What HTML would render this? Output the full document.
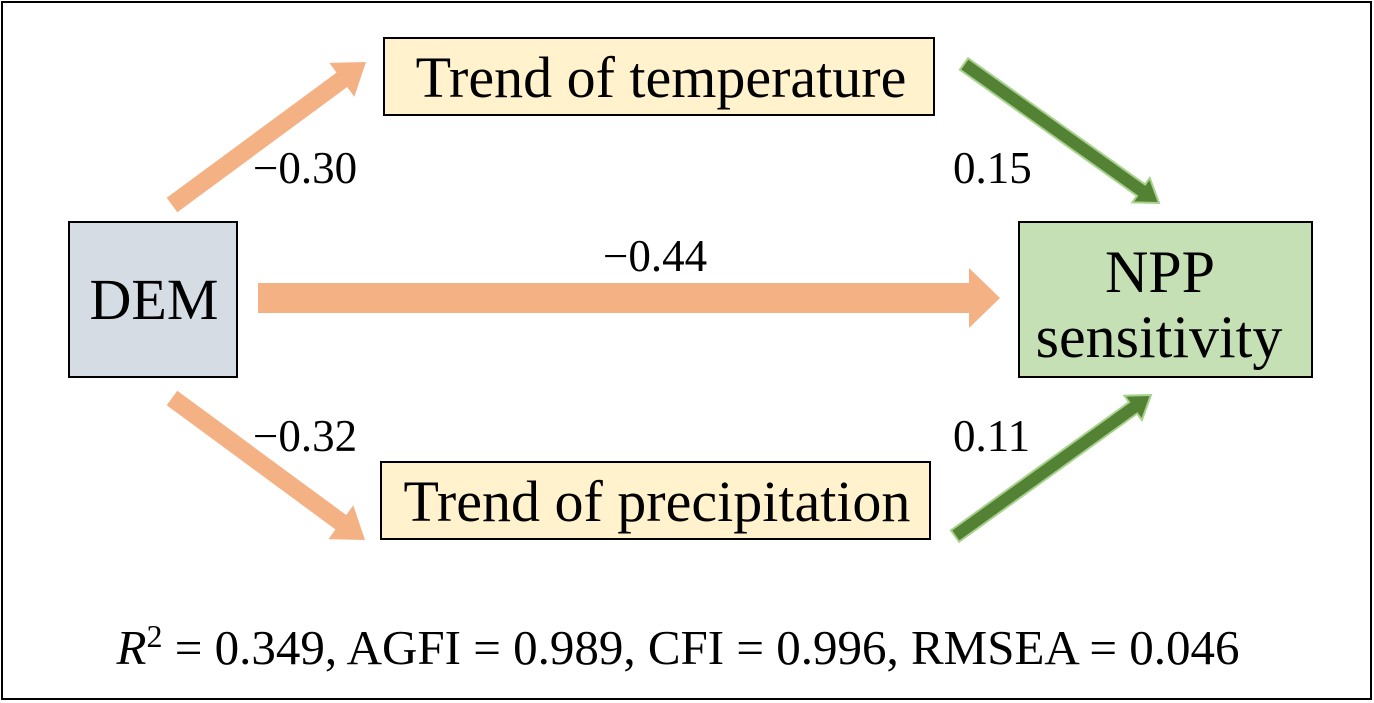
<!DOCTYPE html>
<html><head><meta charset="utf-8">
<style>
html,body{margin:0;padding:0;background:#fff;}
svg{display:block;}
text{font-family:"Liberation Serif",serif;fill:#000;}
</style></head>
<body>
<svg width="1374" height="703" viewBox="0 0 1374 703">
<rect x="2" y="2" width="1369" height="697" fill="#fff" stroke="#000" stroke-width="2"/>
<g id="arrows"></g>
<rect x="384" y="38" width="550" height="77" fill="#fff2cc" stroke="#000" stroke-width="2"/>
<text x="661" y="97" font-size="58" text-anchor="middle">Trend of temperature</text>
<rect x="381" y="462" width="549" height="77" fill="#fff2cc" stroke="#000" stroke-width="2"/>
<text x="657" y="521" font-size="58" text-anchor="middle">Trend of precipitation</text>
<rect x="69" y="222" width="168" height="155" fill="#d6dce4" stroke="#000" stroke-width="2"/>
<text x="154" y="319" font-size="58" text-anchor="middle">DEM</text>
<rect x="1019" y="222" width="293" height="155" fill="#c5e0b4" stroke="#000" stroke-width="2"/>
<text x="1160" y="292" font-size="60" text-anchor="middle">NPP</text>
<text x="1159" y="357" font-size="60" text-anchor="middle">sensitivity</text>
<text x="253" y="183" font-size="45">−0.30</text>
<text x="953" y="183" font-size="45">0.15</text>
<text x="603" y="271" font-size="45">−0.44</text>
<text x="253" y="451" font-size="45">−0.32</text>
<text x="953" y="451" font-size="45">0.11</text>
<text x="678" y="664" font-size="49" text-anchor="middle"><tspan font-style="italic">R</tspan><tspan font-size="32" dy="-17">2</tspan><tspan dy="17"> = 0.349, AGFI = 0.989, CFI = 0.996, RMSEA = 0.046</tspan></text>
</svg>
<script>
const arrowDefs=[
 {name:'arrow-dem-temp',x1:172,y1:205,x2:366,y2:62,w:18,hw:42,hl:30,fill:'#f4b183',stroke:'none'},
 {name:'arrow-dem-prec',x1:172,y1:398,x2:365,y2:540,w:18,hw:42,hl:30,fill:'#f4b183',stroke:'none'},
 {name:'arrow-dem-npp',x1:258,y1:298,x2:1000,y2:298,w:30,hw:60,hl:31,fill:'#f4b183',stroke:'none'},
 {name:'arrow-temp-npp',x1:964,y1:64,x2:1159,y2:203,w:14,hw:30,hl:22,fill:'#548235',stroke:'#a9d18e'},
 {name:'arrow-prec-npp',x1:955,y1:536,x2:1151,y2:395,w:14,hw:30,hl:22,fill:'#548235',stroke:'#a9d18e'}
];
const g=document.getElementById('arrows');
arrowDefs.forEach(a=>{
 const dx=a.x2-a.x1,dy=a.y2-a.y1,L=Math.hypot(dx,dy),ux=dx/L,uy=dy/L,nx=-uy,ny=ux;
 const bx=a.x2-ux*a.hl,by=a.y2-uy*a.hl;
 const pts=[[a.x1+nx*a.w/2,a.y1+ny*a.w/2],[bx+nx*a.w/2,by+ny*a.w/2],[bx+nx*a.hw/2,by+ny*a.hw/2],[a.x2,a.y2],[bx-nx*a.hw/2,by-ny*a.hw/2],[bx-nx*a.w/2,by-ny*a.w/2],[a.x1-nx*a.w/2,a.y1-ny*a.w/2]];
 const p=document.createElementNS('http://www.w3.org/2000/svg','polygon');
 p.setAttribute('points',pts.map(q=>q[0].toFixed(1)+','+q[1].toFixed(1)).join(' '));
 p.setAttribute('fill',a.fill);
 if(a.stroke!=='none'){p.setAttribute('stroke',a.stroke);p.setAttribute('stroke-width','2');}
 
 
 g.appendChild(p);
});
</script>
</body></html>
